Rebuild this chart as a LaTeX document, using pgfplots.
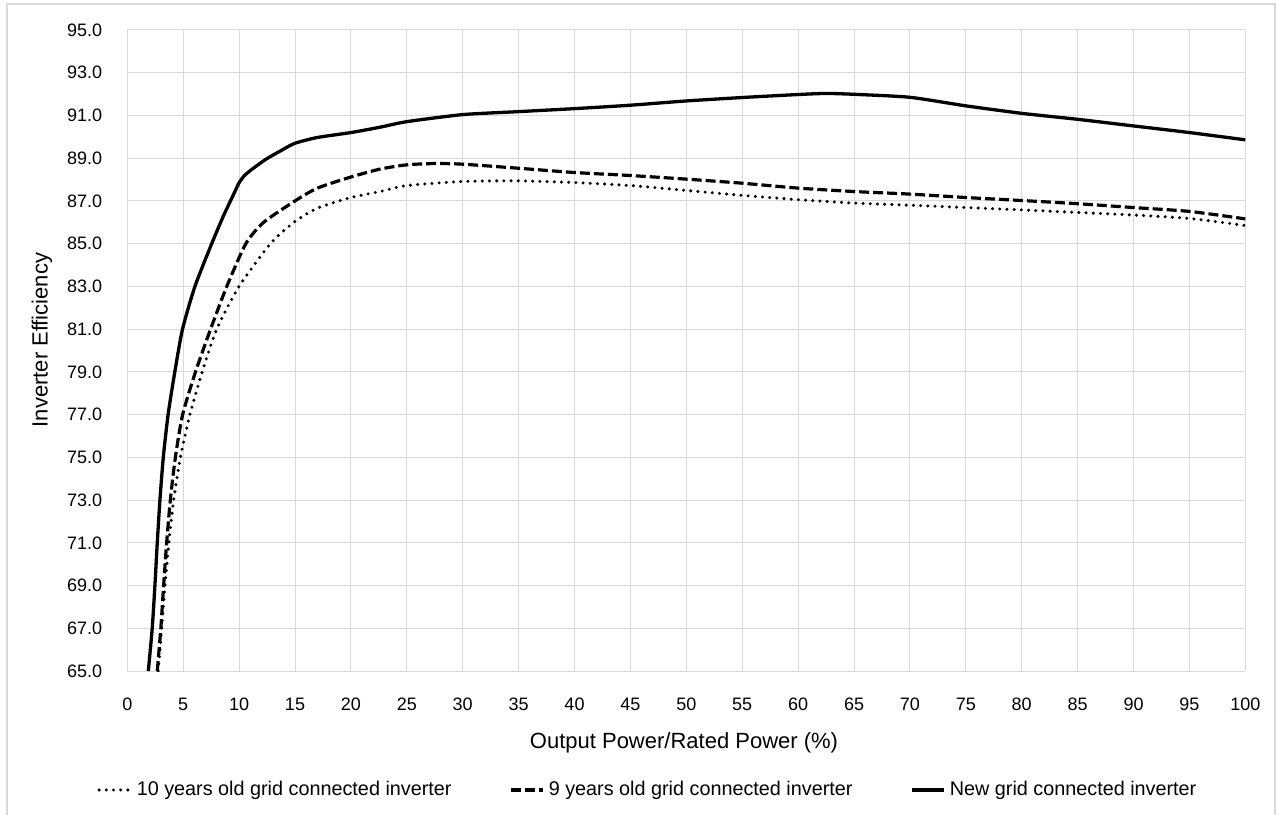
\documentclass[border=0pt]{standalone}
\usepackage{pgfplots}
\pgfplotsset{compat=1.18}
\usepackage{fontspec}
\setmainfont{Liberation Sans}

\definecolor{gridgray}{HTML}{D9D9D9}

\begin{document}
\begin{tikzpicture}
  \begin{axis}[
      at={(0,0)}, anchor=south west,
      scale only axis,
      width=559pt, height=320.5pt,
      xmin=0, xmax=100, ymin=65, ymax=95,
      xtick={0,5,...,100},
      ytick={65,67,...,95},
      grid=major,
      major grid style={gridgray, line width=0.5pt},
      axis line style={draw=none},
      major tick length=0pt,
      /pgf/number format/assume math mode=true,
      yticklabel style={/pgf/number format/.cd, fixed, fixed zerofill, precision=1, /tikz/.cd, font=\fontsize{9}{10}\selectfont, xshift=-9pt},
      xticklabel style={font=\fontsize{9}{10}\selectfont, yshift=-10pt},
      legend columns=3,
      legend style={draw=none, fill=none, inner sep=0pt,
        at={(axis description cs:-0.0271,-0.1856)}, anchor=west,
        font=\fontsize{9.9}{11}\selectfont,
        /tikz/every even column/.append style={column sep=27pt}},
      legend cell align=left,
      legend image code/.code={\draw[#1] (0pt,0pt) -- (16pt,0pt);},
    ]
    % 10 years old
    \addplot[black, line width=1.7pt, line cap=round, dash pattern=on 0pt off 3.6pt, smooth, tension=0.4] coordinates {
      (2.77,65) (3.07,67) (3.37,69) (3.72,71) (4.15,73) (4.75,75) (5.6,77) (6.7,79) (8.0,81)
      (10.0,83) (12.8,85) (14.9,86.0) (17,86.66)
      (19.93,87.15) (22.6,87.44) (25,87.72)
      (30,87.91) (35,87.94) (40,87.86) (45,87.72) (50,87.49) (55,87.26) (60,87.06) (65,86.9)
      (70,86.8) (75,86.69) (80,86.58) (85,86.46) (90,86.34) (95,86.18) (100,85.85)
    };
    \addlegendentry{10 years old grid connected inverter}
    % 9 years old
    \addplot[black, line width=1.6pt, dash pattern=on 5pt off 2pt, smooth, tension=0.4] coordinates {
      (2.68,65) (3.0,67) (3.25,69) (3.52,71) (3.85,73) (4.3,75) (4.95,77) (6.1,79) (7.45,81)
      (8.9,83) (10.6,85) (12.2,86.0) (15,87.0) (17,87.6)
      (20,88.12) (22.6,88.49)
      (25,88.69) (27.5,88.75) (30,88.72) (35,88.53) (40,88.33) (45,88.19) (50,88.02)
      (55,87.83) (60,87.6) (65,87.44) (70,87.32) (75,87.16) (80,87.02) (85,86.87)
      (90,86.69) (95,86.51) (100,86.16)
    };
    \addlegendentry{9 years old grid connected inverter}
    % new
    \addplot[black, line width=1.65pt, smooth, tension=0.4] coordinates {
      (1.88,65) (2.23,67) (2.47,69) (2.68,71) (2.92,73) (3.22,75) (3.65,77) (4.25,79) (4.94,81)
      (6.05,83) (7.55,85) (8.6,86.3) (9.5,87.3) (10,87.85) (10.5,88.2) (11.2,88.5) (12.4,88.95)
      (13.9,89.4) (15,89.7) (17,89.97) (20,90.2) (22.6,90.45) (25,90.71) (30,91.04)
      (35,91.18) (40,91.32) (45,91.48) (50,91.68) (55,91.84) (60,91.98) (62.5,92.03)
      (65,91.99) (70,91.85) (75,91.45) (80,91.1) (85,90.82) (90,90.51) (95,90.2) (100,89.86)
    };
    \addlegendentry{New grid connected inverter}
  \end{axis}
  \node[rotate=90, font=\fontsize{11}{13}\selectfont] at (-42.65pt,165.5pt) {Inverter Efficiency};
  \node[anchor=base, font=\fontsize{11}{13}\selectfont] at (278.35pt,-38.5pt) {Output Power/Rated Power (\%)};
  \draw[gridgray, line width=0.6pt] (-60.15pt,-72.5pt) rectangle (573.85pt,333.5pt);
  \pgfresetboundingbox
  \path[use as bounding box] (-63.65pt,-71.5pt) rectangle (574.85pt,335.5pt);
\end{tikzpicture}
\end{document}
